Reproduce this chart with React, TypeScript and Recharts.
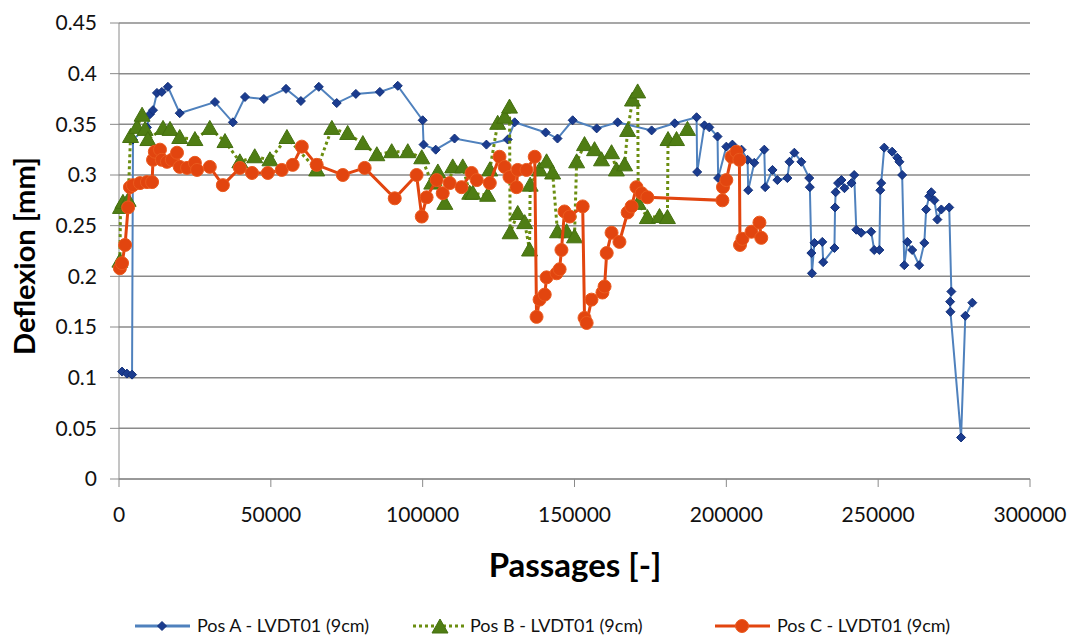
import { CartesianGrid, Legend, Scatter, ScatterChart, XAxis, YAxis } from "recharts";

// passages / deflexion values
const posAx = [
  1000, 2600, 4300, 4600, 9200, 10200, 11200, 12500, 14100, 16100, 20000, 31600, 37500, 41500, 47700,
  55000, 59900, 65800, 71700, 78000, 85900, 91800, 100000, 100300, 104300, 110500, 121000, 128000,
  130300, 140500, 144400, 149400, 157300, 164200, 175400, 183000, 190200, 190400, 192800, 194400,
  197100, 197300, 200000, 202000, 205000, 207000, 207200, 209200, 212500, 212800, 215200, 216800,
  220100, 220800, 222400, 224700, 227300, 227500, 228000, 228200, 229000, 231600, 231900, 235600,
  235800, 236000, 236800, 237900, 238900, 241200, 242100, 242800, 244400, 247700, 248700, 250400,
  250700, 251000, 252000, 254600, 256300, 257000, 257900, 258600, 259600, 261200, 263500, 265200,
  265800, 266800, 267500, 268500, 269500, 270800, 273400, 274100, 273700, 273800, 277300, 278700, 281000,
];
const posAy = [
  0.106, 0.104, 0.103, 0.335, 0.347, 0.36, 0.364, 0.381, 0.382, 0.387, 0.361, 0.372, 0.352, 0.377, 0.375,
  0.385, 0.373, 0.387, 0.371, 0.38, 0.382, 0.388, 0.354, 0.33, 0.325, 0.336, 0.33, 0.335,
  0.352, 0.342, 0.336, 0.354, 0.346, 0.352, 0.344, 0.351, 0.357, 0.303, 0.349, 0.347,
  0.338, 0.297, 0.328, 0.33, 0.325, 0.315, 0.285, 0.312, 0.325, 0.288, 0.305, 0.295,
  0.297, 0.313, 0.322, 0.313, 0.297, 0.288, 0.223, 0.203, 0.233, 0.234, 0.214, 0.228,
  0.268, 0.283, 0.292, 0.295, 0.287, 0.292, 0.3, 0.246, 0.243, 0.244, 0.226, 0.226,
  0.285, 0.292, 0.327, 0.323, 0.317, 0.313, 0.3, 0.211, 0.234, 0.226, 0.211, 0.233,
  0.266, 0.279, 0.283, 0.275, 0.256, 0.266, 0.268, 0.185, 0.175, 0.165, 0.041, 0.161, 0.174,
];

const posBx = [
  300, 500, 1300, 3000, 3800, 5900, 7600, 8600, 9500, 14500, 16800, 20000, 25000, 29900, 34900,
  39800, 44700, 49700, 55300, 65100, 70100, 75300, 80300, 84900, 89800, 95100, 99700, 103000,
  105000, 107300, 109900, 113200, 115500, 116500, 121400, 122100, 124700, 127000, 128600, 128800,
  131300, 133600, 135200, 135400, 138500, 140800, 142800, 144400, 147400, 150000, 150700, 153300,
  156600, 158900, 162200, 163800, 166500, 167500, 169100, 170800, 171000, 174000, 178000, 180600,
  180800, 183600, 187200,
];
const posBy = [
  0.215, 0.268, 0.273, 0.275, 0.338, 0.347, 0.359, 0.345, 0.335, 0.346, 0.345, 0.337, 0.335, 0.346, 0.333,
  0.313, 0.318, 0.315, 0.337, 0.305, 0.346, 0.341, 0.331, 0.32, 0.323, 0.323, 0.317, 0.292,
  0.303, 0.272, 0.308, 0.308, 0.282, 0.282, 0.28, 0.305, 0.351, 0.357, 0.367, 0.243,
  0.262, 0.253, 0.226, 0.29, 0.305, 0.313, 0.302, 0.244, 0.244, 0.239, 0.313, 0.33,
  0.325, 0.315, 0.322, 0.305, 0.31, 0.344, 0.374, 0.382, 0.272, 0.258, 0.259, 0.258,
  0.335, 0.335, 0.345,
];

const posCx = [
  300, 1000, 2000, 3000, 3600, 4600, 6900, 9200, 10900, 11200, 11800, 13500, 14100, 15800, 17400,
  19100, 20000, 22400, 25000, 25700, 29900, 34200, 39800, 43800, 49000, 53600, 57200, 60200, 65100,
  73700, 80900, 90800, 98000, 99700, 101300, 104600, 106600, 108900, 112800, 116100, 117800, 122100,
  125300, 127000, 128600, 130900, 131300, 134200, 136900, 137500, 138500, 140200, 140800, 144100,
  145100, 145700, 146700, 148400, 152700, 153300, 154000, 155600, 159200, 159900, 160600, 162200,
  164800, 167500, 168800, 170400, 172100, 174000, 198700, 198900, 200000, 201700, 203300, 204300,
  204500, 205300, 208300, 210900, 211500,
];
const posCy = [
  0.208, 0.213, 0.231, 0.268, 0.288, 0.29, 0.292, 0.293, 0.293, 0.315, 0.323, 0.325, 0.315, 0.313, 0.315,
  0.322, 0.308, 0.307, 0.312, 0.305, 0.308, 0.29, 0.307, 0.302, 0.302, 0.305, 0.31, 0.328, 0.31,
  0.3, 0.307, 0.277, 0.3, 0.259, 0.278, 0.295, 0.282, 0.292, 0.288, 0.302, 0.295, 0.292,
  0.318, 0.308, 0.298, 0.288, 0.305, 0.305, 0.318, 0.16, 0.177, 0.182, 0.199, 0.203,
  0.207, 0.226, 0.264, 0.259, 0.269, 0.159, 0.154, 0.177, 0.184, 0.19, 0.223, 0.243,
  0.234, 0.263, 0.269, 0.288, 0.282, 0.278, 0.275, 0.288, 0.295, 0.318, 0.323, 0.315,
  0.231, 0.237, 0.244, 0.253, 0.238,
];

const xTicks = [0, 50000, 100000, 150000, 200000, 250000, 300000];
const yTicks = [0, 0.05, 0.1, 0.15, 0.2, 0.25, 0.3, 0.35, 0.4, 0.45];
const seriesNames = ["Pos A - LVDT01 (9cm)", "Pos B - LVDT01 (9cm)", "Pos C - LVDT01 (9cm)"];

const zip = (xs: number[], ys: number[]) => xs.map((x, i) => ({ x, y: ys[i] }));
const dataA = zip(posAx, posAy);
const dataB = zip(posBx, posBy);
const dataC = zip(posCx, posCy);

const FONT = "Lato, 'Open Sans', sans-serif";
const BLUE = "#4f81bd";
const GREEN = "#4f7d14";
const RED = "#e2450f";

const Diamond = ({ cx, cy }: any) =>
  cx == null ? null : (
    <path
      d={`M${cx},${cy - 4.5}L${cx + 4.5},${cy}L${cx},${cy + 4.5}L${cx - 4.5},${cy}Z`}
      fill="#1b3c8f"
      stroke="#12307a"
      strokeWidth={1}
    />
  );

const Triangle = ({ cx, cy }: any) =>
  cx == null ? null : (
    <path
      d={`M${cx},${cy - 8}L${cx + 8},${cy + 6}L${cx - 8},${cy + 6}Z`}
      fill={GREEN}
      stroke="#44700f"
      strokeWidth={1}
    />
  );

const Dot = ({ cx, cy }: any) =>
  cx == null ? null : <circle cx={cx} cy={cy} r={6.5} fill={RED} stroke="#ea5a1e" strokeWidth={1} />;

function LegendBox() {
  const item = (x: number, textX: number, kind: number, label: string) => (
    <g key={label}>
      {kind === 0 && <line x1={x} x2={x + 55} y1={14} y2={14} stroke={BLUE} strokeWidth={3} />}
      {kind === 1 && (
        <line x1={x} x2={x + 52} y1={14} y2={14} stroke="#6b8e10" strokeWidth={3} strokeDasharray="3 3" />
      )}
      {kind === 2 && <line x1={x} x2={x + 55} y1={14} y2={14} stroke={RED} strokeWidth={3} />}
      {kind === 0 && <Diamond cx={x + 27} cy={14} />}
      {kind === 1 && <Triangle cx={x + 27} cy={15} />}
      {kind === 2 && <Dot cx={x + 27} cy={14} />}
      <text x={textX} y={20} fontSize={18} fontFamily={FONT} fill="#111">
        {label}
      </text>
    </g>
  );
  return (
    <svg width={1072} height={30}>
      {item(135, 197, 0, seriesNames[0])}
      {item(413, 470, 1, seriesNames[1])}
      {item(715, 777, 2, seriesNames[2])}
    </svg>
  );
}

export default function App() {
  return (
    <div style={{ position: "absolute", left: 0, top: 0, width: 1072, height: 639, background: "#fff" }}>
      <ScatterChart width={1072} height={639} margin={{ top: 23, right: 42, left: 0, bottom: 0 }}>
        <CartesianGrid vertical={false} stroke="#8a8a8a" strokeWidth={1.5} />
        <XAxis
          type="number"
          dataKey="x"
          domain={[0, 300000]}
          ticks={xTicks}
          height={160}
          stroke="#8a8a8a"
          tickSize={8}
          tickMargin={20}
          tick={{ fill: "#111", fontSize: 21, fontFamily: FONT }}
          label={() => (
            <text x={575} y={577} textAnchor="middle" fontSize={33} fontWeight="bold" fontFamily={FONT} fill="#000">
              Passages [-]
            </text>
          )}
        />
        <YAxis
          type="number"
          dataKey="y"
          domain={[0, 0.45]}
          ticks={yTicks}
          width={119}
          stroke="#8a8a8a"
          tickSize={9}
          tickMargin={13}
          tickFormatter={(v: number) => String(Math.round(v * 100) / 100)}
          tick={{ fill: "#111", fontSize: 21, fontFamily: FONT }}
          label={() => (
            <text
              x={35}
              y={256}
              transform="rotate(-90 35 256)"
              textAnchor="middle"
              fontSize={29}
              fontWeight="bold"
              fontFamily={FONT}
              fill="#000"
            >
              Deflexion [mm]
            </text>
          )}
        />
        <Legend
          verticalAlign="middle"
          content={() => <LegendBox />}
          wrapperStyle={{ position: "absolute", left: 0, top: 612, width: 1072 }}
        />
        <Scatter
          name={seriesNames[0]}
          data={dataA}
          line={{ stroke: BLUE, strokeWidth: 2 }}
          shape={Diamond}
          isAnimationActive={false}
        />
        <Scatter
          name={seriesNames[1]}
          data={dataB}
          line={{ stroke: "#6b8e10", strokeWidth: 3, strokeDasharray: "3 3" }}
          shape={Triangle}
          isAnimationActive={false}
        />
        <Scatter
          name={seriesNames[2]}
          data={dataC}
          line={{ stroke: RED, strokeWidth: 3 }}
          shape={Dot}
          isAnimationActive={false}
        />
      </ScatterChart>
    </div>
  );
}
